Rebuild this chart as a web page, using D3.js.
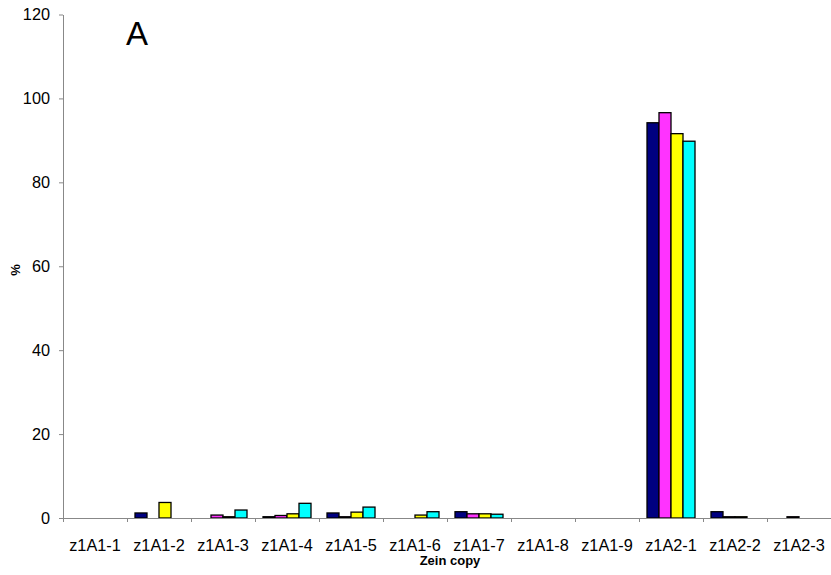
<!DOCTYPE html>
<html>
<head>
<meta charset="utf-8">
<script src="https://cdn.jsdelivr.net/npm/d3@7"></script>
<style>
  body { margin: 0; background: #fff; }
  svg { display: block; font-family: "Liberation Sans", Arial, sans-serif; }
</style>
</head>
<body>
<svg id="chart" width="831" height="575"></svg>
<script>
// Zein copy categories and the share (%) of each of four samples
const categories = ["z1A1-1", "z1A1-2", "z1A1-3", "z1A1-4", "z1A1-5", "z1A1-6",
                    "z1A1-7", "z1A1-8", "z1A1-9", "z1A2-1", "z1A2-2", "z1A2-3"];
const seriesNames = ["s1", "s2", "s3", "s4"];
const seriesColors = ["#000080", "#ff33ff", "#ffff00", "#00ffff"];
const s1 = [0, 1.2, 0,   0.3, 1.2, 0,   1.5, 0, 0, 94.2, 1.5, 0];
const s2 = [0, 0,   0.7, 0.6, 0.3, 0,   1.0, 0, 0, 96.6, 0.3, 0.3];
const s3 = [0, 3.7, 0.3, 1.0, 1.4, 0.7, 1.0, 0, 0, 91.6, 0.3, 0];
const s4 = [0, 0,   1.9, 3.5, 2.6, 1.5, 0.9, 0, 0, 89.8, 0,   0];
const seriesValues = [s1, s2, s3, s4];
const yTicks = [0, 20, 40, 60, 80, 100, 120];

const svg = d3.select("#chart");
const margin = { left: 63, right: 0, top: 14.5, bottom: 57 };
const width = 831 - margin.left - margin.right;
const height = 575 - margin.top - margin.bottom;

const g = svg.append("g").attr("transform", `translate(${margin.left},${margin.top})`);

const x = d3.scaleBand().domain(categories).range([0, width]).padding(0);
const xInner = d3.scaleBand().domain(seriesNames)
  .range([x.bandwidth() * 0.125, x.bandwidth() * 0.875]).padding(0);
const y = d3.scaleLinear().domain([0, 120]).range([height, 0]);

// bars
seriesNames.forEach((name, si) => {
  g.append("g").selectAll("rect")
    .data(categories.map((c, i) => ({ c, v: seriesValues[si][i] })).filter(d => d.v > 0))
    .join("rect")
    .attr("x", d => x(d.c) + xInner(name))
    .attr("y", d => y(d.v))
    .attr("width", xInner.bandwidth())
    .attr("height", d => y(0) - y(d.v))
    .attr("fill", seriesColors[si])
    .attr("stroke", "#000")
    .attr("stroke-width", 1.3);
});

// y axis
const yAxis = g.append("g")
  .call(d3.axisLeft(y).tickValues(yTicks).tickSize(4).tickSizeOuter(0).tickPadding(9));
yAxis.select(".domain").attr("stroke", "#888");
yAxis.selectAll(".tick line").attr("stroke", "#888");
yAxis.selectAll(".tick text").attr("font-size", 16.3).attr("fill", "#000")
  .attr("font-family", "Liberation Sans, Arial, sans-serif");

// x axis: tick marks on category boundaries
const xb = d3.scaleLinear().domain([0, categories.length]).range([0, width]);
const xAxisTicks = g.append("g").attr("transform", `translate(0,${height})`)
  .call(d3.axisBottom(xb).tickValues(d3.range(categories.length + 1)).tickFormat("").tickSize(4).tickSizeOuter(0));
xAxisTicks.select(".domain").attr("stroke", "#888");
xAxisTicks.selectAll(".tick line").attr("stroke", "#888");

// x labels at category centres
const xLabels = g.append("g").attr("transform", `translate(0,${height})`)
  .call(d3.axisBottom(x).tickSize(0).tickPadding(21.5));
xLabels.select(".domain").remove();
xLabels.selectAll(".tick text").attr("font-size", 16.3).attr("fill", "#000")
  .attr("font-family", "Liberation Sans, Arial, sans-serif");

// axis titles
svg.append("text")
  .attr("x", 450).attr("y", 564.5)
  .attr("text-anchor", "middle").attr("font-size", 13).attr("font-weight", "bold")
  .text("Zein copy");

svg.append("text")
  .attr("transform", "translate(19.5,270) rotate(-90)")
  .attr("text-anchor", "middle").attr("font-size", 13).attr("font-weight", "bold")
  .text("%");

// panel letter
svg.append("text")
  .attr("x", 126).attr("y", 45)
  .attr("font-size", 33)
  .text("A");
</script>
</body>
</html>
